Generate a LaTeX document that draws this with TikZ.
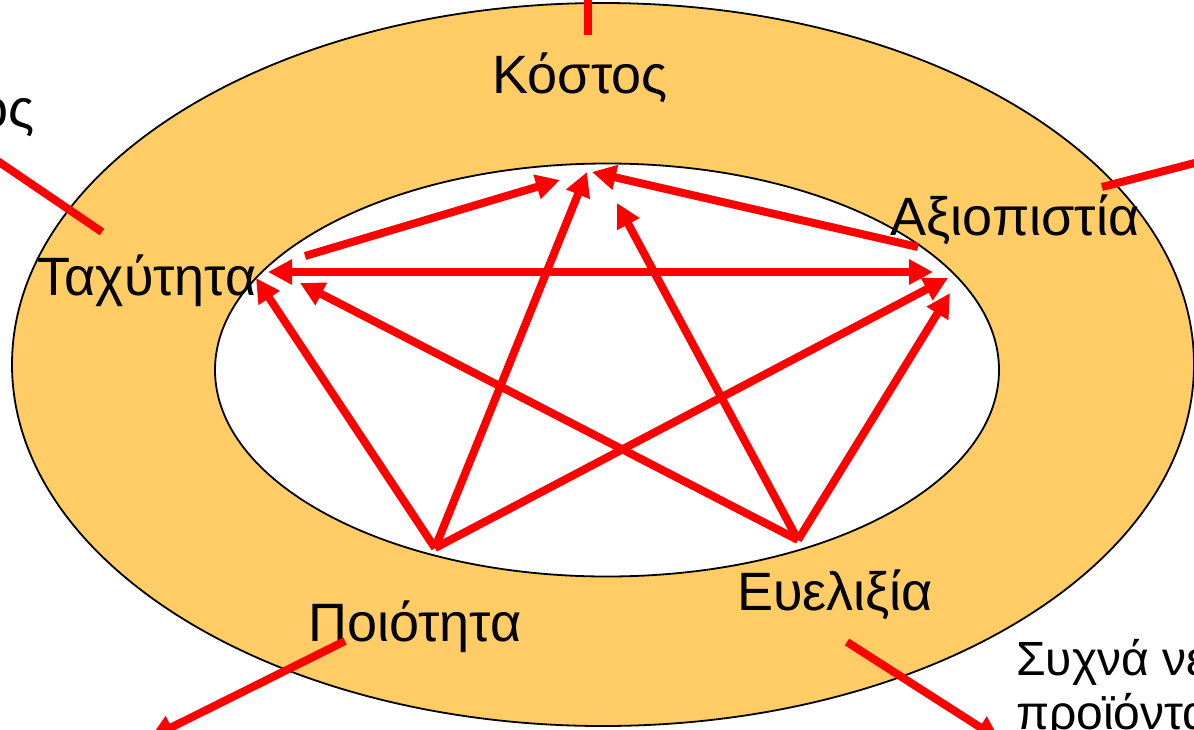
\documentclass[tikz,border=0pt]{standalone}
\usepackage{fontspec}
\setmainfont{Liberation Sans}
\usetikzlibrary{arrows.meta}
\definecolor{ring}{RGB}{255,204,102}
\tikzset{
    link/.style={draw=red, line width=8pt, ->},
    callout/.style={draw=red, line width=8pt},
    word/.style={font=\fontsize{54}{62}\selectfont, inner sep=0pt, anchor=base},
    note/.style={font=\fontsize{48}{56}\selectfont, inner sep=0pt, anchor=base west}
}
\begin{document}
\begin{tikzpicture}[x=1pt, y=-1pt, >={Triangle[length=24pt,width=24pt]}]
            \useasboundingbox (0,0) rectangle (1194,729);
            \clip (0,0) rectangle (1194,729);
            \fill[white] (0,0) rectangle (1194,729);
            \draw[fill=ring, line width=1.8pt] (603,364.5) ellipse [x radius=591pt, y radius=361.5pt];
            \draw[fill=white, line width=1.8pt] (607,370) ellipse [x radius=392pt, y radius=206.5pt];
            % corners of the star
            \coordinate (t) at (587,172);
            \coordinate (l) at (256,278);
            \coordinate (r) at (948,278);
            \coordinate (bl) at (435,548);
            \coordinate (br) at (798,540);
            \coordinate (l1) at (305,256);
            \coordinate (t1) at (560,180);
            \coordinate (r1) at (918,247);
            \coordinate (t2) at (592,172);
            \coordinate (t3) at (617,203);
            \coordinate (l2) at (268,272);
            \coordinate (r2) at (933,272);
            \coordinate (r3) at (950,293);
            \coordinate (l3) at (300,283);
            \draw[link] (l1) -- (t1);
            \draw[link] (bl) -- (t);
            \draw[link] (r1) -- (t2);
            \draw[link] (br) -- (t3);
            \draw[link, <->] (l2) -- (r2);
            \draw[link] (bl) -- (r);
            \draw[link] (br) -- (r3);
            \draw[link] (bl) -- (l);
            \draw[link] (br) -- (l3);
            % labels
            \node[word] (kostos) at (580,93) {Κόστος};
            \node[word] (taxy) at (147,295) {Ταχύτητα};
            \node[word] (axio) at (1015,235) {Αξιοπιστία};
            \node[word] (poio) at (415,641) {Ποιότητα};
            \node[word] (evel) at (835,610) {Ευελιξία};
            \node[word, anchor=base east] (os) at (35,127) {ος};
            \node[note] (often) at (1016,675) {Συχνά νέα};
            \node[note] (prod) at (1016,729) {προϊόντα};
            % lines going out of the picture
            \coordinate (a0) at (588,-10);
            \coordinate (a1) at (588,35);
            \coordinate (b0) at (-20,149);
            \coordinate (b1) at (102,232);
            \coordinate (c0) at (1214,158);
            \coordinate (c1) at (1102,187);
            \coordinate (d0) at (345,641);
            \coordinate (d1) at (150,738);
            \coordinate (e0) at (847,642);
            \coordinate (e1) at (1000,740);
            \draw[callout] (a0) -- (a1);
            \draw[callout] (b0) -- (b1);
            \draw[callout] (c0) -- (c1);
            \draw[link] (d0) -- (d1);
            \draw[link] (e0) -- (e1);
        \end{tikzpicture}
\end{document}
